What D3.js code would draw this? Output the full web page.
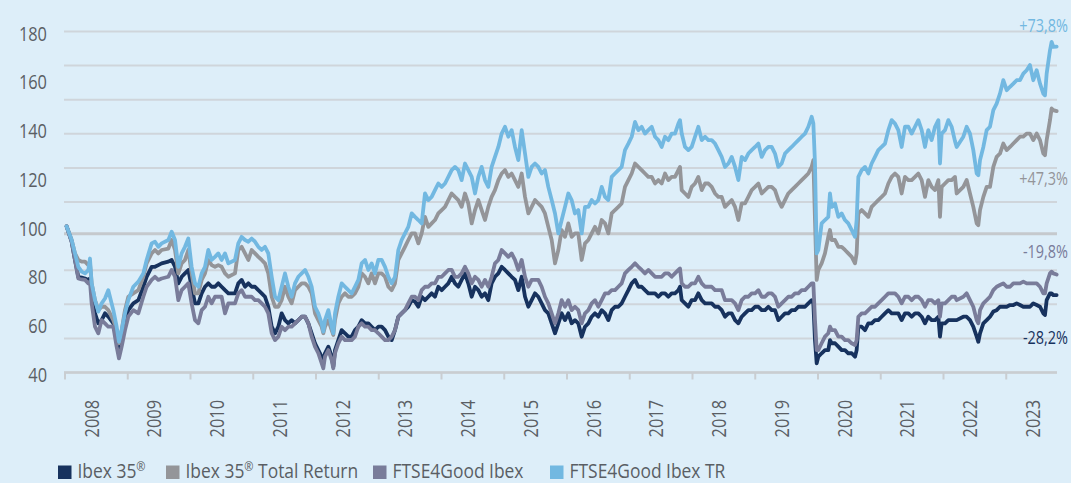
<!DOCTYPE html>
<html><head><meta charset="utf-8">
<script src="https://cdn.jsdelivr.net/npm/d3@7"></script>
<style>
html,body{margin:0;padding:0;background:#ddeef9;}
svg{display:block;}
text{font-family:'Open Sans','Noto Sans',sans-serif;}
</style></head>
<body>
<svg id="c" width="1071" height="483"></svg>
<script>
// ---- data (index, start = 100) ----
const dates = [
2008.026,2008.106,2008.159,2008.212,2008.266,2008.319,2008.372,2008.398,2008.425,2008.478,2008.531,2008.584,2008.637,2008.690,2008.770,2008.823,2008.860,2008.903,2008.956,2009.009,2009.089,2009.169,2009.248,2009.301,2009.381,2009.434,2009.487,2009.540,2009.647,2009.700,2009.753,2009.806,2009.859,2009.912,2009.965,2010.018,2010.072,2010.125,2010.178,2010.231,2010.284,2010.337,2010.390,2010.443,2010.496,2010.550,2010.603,2010.709,
2010.762,2010.815,2010.869,2010.922,2010.975,2011.028,2011.081,2011.134,2011.187,2011.240,2011.294,2011.347,2011.400,2011.453,2011.506,2011.559,2011.612,2011.665,2011.718,2011.772,2011.825,2011.878,2011.931,2011.984,2012.037,2012.090,2012.117,2012.143,2012.197,2012.250,2012.276,2012.303,2012.356,2012.409,2012.462,2012.515,2012.568,2012.621,2012.675,2012.728,2012.781,2012.834,2012.887,2012.940,2012.993,2013.046,2013.100,2013.153,2013.206,2013.259,2013.312,2013.365,2013.418,2013.471,2013.525,2013.578,
2013.631,2013.684,2013.737,2013.790,2013.843,2013.896,2013.949,2014.003,2014.056,2014.109,2014.162,2014.215,2014.268,2014.321,2014.374,2014.427,2014.481,2014.534,2014.587,2014.640,2014.693,2014.746,2014.799,2014.852,2014.906,2014.959,2015.012,2015.065,2015.118,2015.171,2015.224,2015.278,2015.331,2015.384,2015.437,2015.490,2015.543,2015.596,2015.649,2015.702,2015.756,2015.809,2015.862,2015.915,2015.968,2016.021,2016.074,2016.127,2016.180,2016.234,2016.287,2016.340,2016.393,2016.446,
2016.499,2016.553,2016.606,2016.659,2016.712,2016.765,2016.818,2016.871,2016.924,2016.978,2017.031,2017.084,2017.137,2017.190,2017.243,2017.296,2017.350,2017.403,2017.456,2017.509,2017.562,2017.615,2017.668,2017.721,2017.775,2017.801,2017.828,2017.881,2017.934,2017.987,2018.040,2018.093,2018.147,2018.200,2018.253,2018.306,2018.359,2018.412,2018.465,2018.518,2018.572,2018.625,2018.678,2018.731,2018.784,2018.837,2018.890,2018.943,2018.997,2019.050,2019.103,2019.156,2019.209,2019.262,2019.315,
2019.368,2019.421,2019.474,2019.527,2019.580,2019.633,2019.687,2019.740,2019.793,2019.846,2019.899,2019.926,2019.952,2019.979,2020.005,2020.058,2020.111,2020.164,2020.191,2020.218,2020.271,2020.324,2020.377,2020.430,2020.483,2020.537,2020.590,2020.616,2020.643,2020.696,2020.749,2020.802,2020.855,2020.908,2020.961,2021.014,2021.068,2021.121,2021.174,2021.227,2021.280,2021.333,2021.386,2021.440,2021.493,2021.546,2021.599,2021.652,2021.705,2021.758,2021.811,2021.865,2021.918,2021.944,2021.971,2022.024,2022.077,2022.130,2022.183,
2022.210,2022.316,2022.369,2022.422,2022.475,2022.529,2022.555,2022.582,2022.635,2022.688,2022.741,2022.794,2022.847,2022.900,2022.953,2023.007,2023.060,2023.113,2023.166,2023.219,2023.272,2023.325,2023.378,2023.431,2023.485,2023.538,2023.591,2023.617,2023.644,2023.697,2023.723,2023.750,2023.803
];
const ibex35 = [
100,93.7,86.2,79.3,79.0,78.6,78.0,78.6,72.5,64.3,60.2,61.5,64.3,62.9,60.2,56.1,49.2,53.3,61.5,65.6,68.4,69.7,75.2,79.3,83.4,83.4,84.1,84.8,85.5,86.2,83.4,76.6,79.3,80.7,82.1,75.2,68.4,68.4,72.5,75.2,76.6,75.2,75.2,76.6,75.2,73.8,72.5,72.5,
76.6,78.0,75.2,76.6,75.2,75.2,73.8,72.5,71.1,67.0,58.8,56.1,58.8,64.3,61.5,60.2,61.5,60.2,61.5,62.9,62.9,60.2,56.1,52.0,49.2,46.5,43.8,47.9,50.6,46.5,42.4,49.2,53.3,57.4,56.1,54.7,54.7,57.4,58.8,61.5,60.2,60.2,58.8,57.4,58.8,58.8,57.4,54.7,53.3,57.4,62.9,64.3,65.6,67.0,69.7,69.1,
67.0,71.1,69.7,71.1,72.5,71.1,75.2,73.8,75.2,76.6,79.3,76.6,75.2,78.0,80.7,76.6,71.1,75.2,73.8,71.1,72.5,69.7,76.6,79.3,80.7,83.4,82.1,80.7,79.3,78.0,73.8,79.3,71.1,67.0,69.7,72.5,71.1,68.4,65.6,64.3,60.2,56.1,60.2,64.3,61.5,64.3,60.2,61.5,60.2,54.7,58.8,60.2,62.9,64.3,
62.9,65.6,64.3,61.5,65.6,67.0,67.0,68.4,71.1,73.8,76.6,78.0,75.2,75.2,73.8,72.5,72.5,72.5,71.1,72.5,72.5,71.1,72.5,72.5,73.8,75.2,69.7,68.4,67.0,69.7,69.7,72.5,69.7,68.4,68.4,68.4,67.0,67.0,65.6,62.9,64.3,64.3,61.5,60.2,62.9,64.3,65.6,65.6,67.0,67.0,65.6,65.6,67.0,65.6,65.6,
61.5,62.9,64.3,64.3,65.6,65.6,67.0,67.0,67.0,68.4,69.7,68.4,53.3,43.8,46.5,47.9,49.2,49.2,53.3,52.0,52.0,50.6,49.2,49.2,47.9,47.9,46.5,49.2,58.8,58.8,57.4,60.2,60.2,61.5,61.5,62.9,64.3,65.6,64.3,64.3,64.3,61.5,64.3,64.3,62.9,64.3,64.3,62.9,60.2,62.9,61.5,61.5,62.9,54.7,60.2,60.2,61.5,61.5,61.5,
61.5,62.9,62.9,61.5,58.8,54.7,52.6,56.1,60.2,61.5,62.9,65.0,65.6,67.0,67.0,67.0,67.7,67.7,68.4,67.7,67.0,67.0,67.0,68.4,67.7,67.0,64.3,63.6,69.7,72.5,72.5,71.8,71.8
];
const ibex35TR = [
100,94.4,88.9,86.2,85.5,85.5,84.1,84.8,76.6,69.7,65.6,67.0,67.0,65.6,61.5,57.4,52.0,57.4,65.6,71.1,72.5,73.8,79.3,84.8,88.9,90.3,88.9,90.3,90.9,94.4,90.3,80.7,84.8,86.2,90.3,80.7,72.5,72.5,78.0,80.7,86.2,84.1,83.4,84.1,83.4,80.7,79.3,80.7,
90.3,91.6,88.9,86.2,90.3,88.9,87.5,86.2,84.8,80.7,71.1,67.0,67.0,69.7,75.2,71.1,68.4,73.8,75.2,76.6,76.6,75.2,72.5,64.3,61.5,58.8,56.1,58.8,61.5,57.4,55.4,61.5,68.4,71.1,72.5,71.1,71.1,72.5,75.2,80.7,79.3,76.6,80.7,76.6,80.7,80.7,79.3,75.2,73.8,76.6,86.2,88.9,91.6,94.4,97.1,97.1,
93.0,97.1,103.9,99.8,101.2,102.6,105.3,106.7,108.0,110.8,113.5,112.1,110.8,108.0,113.5,109.4,101.2,106.7,110.8,106.7,102.6,108.0,112.1,114.9,119.0,121.7,123.1,120.3,121.7,119.0,116.2,121.7,112.1,105.3,108.0,110.8,109.4,108.0,105.3,99.8,94.4,84.8,90.3,98.5,95.7,101.2,95.7,97.1,97.1,86.2,93.0,94.4,97.1,99.8,
97.1,102.6,101.2,97.1,105.3,106.7,108.0,109.4,116.2,119.0,121.7,125.8,124.4,123.1,121.7,120.3,120.3,117.6,119.0,117.6,121.7,119.0,120.3,120.3,123.1,124.4,114.9,113.5,112.1,116.2,117.6,120.3,114.9,117.6,117.6,116.2,113.5,112.1,112.1,108.0,109.4,110.8,108.0,102.6,109.4,109.4,112.1,114.9,116.2,117.6,113.5,114.9,116.2,116.2,114.9,
110.8,108.0,110.8,113.5,114.9,116.2,117.6,119.0,120.3,121.7,124.4,127.2,102.6,78.0,82.1,84.8,88.9,95.7,98.5,94.4,94.4,91.6,91.6,90.3,88.9,87.5,84.8,88.9,105.3,106.7,105.3,103.9,108.0,109.4,110.8,112.1,113.5,117.6,120.3,121.7,120.3,113.5,120.3,119.0,119.0,120.3,121.7,119.0,112.1,119.0,116.2,114.9,119.0,103.9,116.2,117.6,119.0,119.0,120.3,
113.5,116.2,119.0,113.5,108.0,101.2,100.5,106.7,112.1,116.2,116.2,124.4,128.5,129.9,134.0,131.3,132.6,134.0,135.4,136.8,136.8,138.1,138.1,135.4,138.1,135.4,129.9,129.2,135.4,143.6,148.4,147.7,147.3
];
const ftse4good = [
100,93.7,86.2,78.6,78.2,78.0,76.6,77.3,68.4,58.8,56.1,61.5,60.2,58.8,58.8,50.6,45.8,50.6,57.4,62.9,65.6,64.3,71.1,75.2,78.0,79.3,78.0,78.6,79.3,82.1,79.3,69.7,73.8,75.2,76.6,68.4,61.5,60.2,65.6,67.0,71.1,68.4,71.1,71.1,71.1,64.3,68.4,68.4,
72.5,73.8,71.1,71.1,71.1,69.7,69.7,68.4,67.0,64.3,56.1,53.3,54.7,58.8,57.4,58.8,58.8,60.2,61.5,62.9,62.9,60.2,54.7,50.6,47.9,43.8,41.7,46.5,49.2,45.1,41.7,47.9,52.0,54.7,53.3,53.3,53.3,54.7,58.8,60.2,58.8,58.8,57.4,57.4,56.1,54.7,53.3,53.3,54.7,57.4,62.9,64.3,65.6,68.4,71.1,71.1,
69.7,73.8,75.2,75.2,76.6,76.6,79.3,79.3,80.7,82.1,82.1,79.3,79.3,80.7,83.4,80.7,76.6,79.3,78.0,75.2,78.0,75.2,79.3,84.8,86.2,90.3,88.9,87.5,88.9,86.2,82.1,86.2,79.3,75.2,78.0,78.0,78.0,75.2,71.1,68.4,64.3,60.2,64.3,69.7,67.0,69.7,65.6,67.0,65.6,60.2,64.3,65.6,68.4,69.7,
67.0,69.7,72.5,72.5,73.8,73.8,75.2,76.6,80.7,82.1,83.4,84.8,83.4,82.1,80.7,82.1,80.7,79.3,79.3,79.3,80.7,80.7,79.3,80.7,82.1,82.7,76.6,75.2,75.2,76.6,76.6,79.3,76.6,75.2,75.2,75.2,73.8,73.8,73.8,69.7,69.7,69.7,68.4,65.6,69.7,71.1,71.1,72.5,72.5,73.8,71.1,71.1,72.5,72.5,71.1,
67.0,68.4,69.7,71.1,71.1,72.5,72.5,73.8,73.8,75.2,76.6,76.6,61.5,49.2,49.2,52.0,54.7,56.1,58.8,57.4,57.4,54.7,54.7,53.3,53.3,52.0,51.3,53.3,62.9,64.3,64.3,65.6,67.0,67.0,68.4,69.7,71.1,72.5,72.5,72.5,71.1,68.4,71.1,71.1,69.7,71.1,71.1,69.7,67.0,69.7,69.7,68.4,69.7,62.9,68.4,68.4,69.7,71.1,71.1,
69.7,71.1,72.5,69.7,67.0,61.5,60.2,65.6,68.4,69.7,71.1,73.8,75.2,75.9,76.6,75.2,75.2,76.6,76.6,76.6,77.3,76.6,76.6,76.6,76.6,75.2,72.5,72.5,76.6,80.7,81.4,80.7,80.2
];
const ftse4goodTR = [
100,94.4,88.9,83.4,81.4,80.7,82.1,86.8,76.6,69.7,65.0,68.4,70.4,73.8,65.6,58.8,52.6,57.4,64.3,69.7,75.2,77.3,80.7,86.2,93.0,93.7,91.6,93.0,94.4,97.8,94.4,83.4,88.9,91.6,95.0,83.4,76.6,75.2,80.7,83.4,90.3,86.2,87.5,88.9,86.2,88.9,84.8,86.2,
93.0,95.7,94.4,93.7,95.0,93.7,91.6,90.3,91.6,88.9,79.3,71.1,69.7,75.2,80.7,75.2,71.1,76.6,79.3,80.7,82.1,79.3,75.2,67.0,64.3,60.2,56.8,61.5,65.6,58.8,56.1,64.3,71.1,76.6,75.2,73.8,72.5,75.2,78.0,84.8,86.2,82.1,84.8,80.7,86.2,86.2,83.4,79.3,76.6,79.3,90.3,94.4,97.1,99.8,105.3,103.9,
102.6,101.2,113.5,110.8,112.1,114.9,117.6,116.2,117.6,120.3,123.1,124.4,123.1,119.0,125.8,123.1,120.3,113.5,120.3,124.4,119.0,116.2,124.4,128.5,132.6,138.1,140.9,136.8,139.5,132.6,127.2,139.5,129.9,120.3,124.4,125.8,124.4,121.7,123.1,116.2,110.8,105.3,97.1,102.6,108.0,113.5,110.8,105.3,106.7,97.1,108.0,108.0,110.8,109.4,
110.8,116.2,112.1,110.8,120.3,121.7,123.1,124.4,131.3,134.0,136.8,142.9,139.5,140.9,138.1,139.5,140.9,136.8,135.4,132.6,136.8,135.4,138.1,138.1,142.2,143.6,138.1,132.6,131.3,132.6,136.8,140.9,135.4,136.8,135.4,135.4,134.0,131.3,128.5,124.4,125.8,128.5,124.4,119.0,128.5,127.2,129.9,131.3,132.6,134.0,128.5,131.3,132.6,132.6,129.9,
124.4,125.8,129.9,131.3,132.6,134.0,135.4,136.8,138.1,140.9,145.0,142.2,125.8,88.9,90.3,101.2,102.6,103.9,113.5,108.0,109.4,103.9,105.3,102.6,101.2,98.5,95.7,102.6,120.3,123.1,124.4,121.7,125.8,128.5,131.3,132.6,134.0,139.5,143.6,142.2,139.5,132.6,140.9,140.9,138.1,140.9,143.6,139.5,132.6,139.5,135.4,140.9,143.6,125.8,138.1,139.5,143.6,140.9,135.0,
132.6,136.8,140.9,138.1,131.3,121.7,121.0,127.2,132.6,139.5,140.9,147.7,150.4,154.5,160.0,155.9,157.3,158.6,160.0,160.0,162.7,164.1,166.2,160.0,164.1,158.6,154.5,153.8,162.7,172.3,175.7,173.7,173.8
];
const seriesNames = ["Ibex 35\u00AE", "Ibex 35\u00AE Total Return", "FTSE4Good Ibex", "FTSE4Good Ibex TR"];
const seriesColors = ["#17325e", "#949599", "#797c9a", "#72b8e1"];
const endLabels = ["-28,2%", "+47,3%", "-19,8%", "+73,8%"];
const yTicks = [40, 60, 80, 100, 120, 140, 160, 180];
const gridValues = [40, 54, 68, 82, 97, 110, 124, 138, 152, 166, 180];
const years = d3.range(2008, 2024);

// ---- layout ----
const svg = d3.select("#c");
const W = 1071, H = 483;
const left = 64, right = 1057;
const SX = 0.82; // horizontal condensing of the sans font
const x = d3.scaleLinear().domain([2008, 2024]).range([65, 1069]);
const y = d3.scaleLinear().domain([40, 180]).range([372.5, 31.5]);
const txt = "#5a5e64";

svg.append("rect").attr("width", W).attr("height", H).attr("fill", "#ddeef9");

// gridlines
svg.append("g").selectAll("line").data(gridValues).join("line")
  .attr("x1", left).attr("x2", right)
  .attr("y1", d => y(d)).attr("y2", d => y(d))
  .attr("stroke", (d) => d === 97 ? "#c5c9cd" : "#cfd5db")
  .attr("stroke-width", (d) => d === 97 ? 3 : 2);

// x axis ticks
svg.append("g").selectAll("line").data(years).join("line")
  .attr("x1", d => x(d)).attr("x2", d => x(d))
  .attr("y1", y(40)).attr("y2", y(40) + 7)
  .attr("stroke", "#c9cdd1").attr("stroke-width", 2);
svg.append("line").attr("x1", left).attr("x2", right)
  .attr("y1", y(40)).attr("y2", y(40)).attr("stroke", "#c9cdd1").attr("stroke-width", 2.5);

// y labels
svg.append("g").selectAll("g").data(yTicks).join("g")
  .attr("transform", d => `translate(47,${y(d) + 1}) scale(${SX},1)`)
  .append("text")
  .attr("text-anchor", "end").attr("dominant-baseline", "central")
  .attr("font-size", 20).attr("fill", txt).text(d => d);

// x labels (rotated)
svg.append("g").selectAll("g").data(years).join("g")
  .attr("transform", d => `translate(${x(d + 0.42)},400) rotate(-90) scale(${SX},1)`)
  .append("text")
  .attr("text-anchor", "end").attr("dy", "0.36em")
  .attr("font-size", 20).attr("fill", txt).text(d => d);

// lines
const allSeries = [ibex35, ibex35TR, ftse4good, ftse4goodTR];
const line = d3.line().x((d, i) => x(dates[i])).y(d => y(d));
allSeries.forEach((s, k) => {
  svg.append("path").datum(s).attr("d", line)
    .attr("fill", "none").attr("stroke", seriesColors[k])
    .attr("stroke-width", 3.8).attr("stroke-linejoin", "round").attr("stroke-linecap", "round");
});

// end labels
const endLabelY = [344, 185, 258, 31.5];
endLabels.forEach((t, k) => {
  svg.append("g").attr("transform", `translate(1068,${endLabelY[k]}) scale(0.78,1)`)
    .append("text").attr("text-anchor", "end").attr("font-size", 18.5)
    .attr("fill", seriesColors[k]).text(t);
});

// legend
const legX = [58, 166, 373, 550];
seriesNames.forEach((n, k) => {
  svg.append("rect").attr("x", legX[k]).attr("y", 465.5).attr("width", 13.5).attr("height", 13.5)
    .attr("fill", seriesColors[k]);
  const t = svg.append("g").attr("transform", `translate(${legX[k] + 19.5},478) scale(0.85,1)`)
    .append("text").attr("font-size", 20.5).attr("fill", txt);
  const parts = n.split("\u00AE");
  t.append("tspan").text(parts[0]);
  if (parts.length > 1) {
    t.append("tspan").attr("font-size", 13).attr("dy", -7).text("\u00AE");
    t.append("tspan").attr("dy", 7).text(parts[1]);
  }
});
</script>
</body></html>
